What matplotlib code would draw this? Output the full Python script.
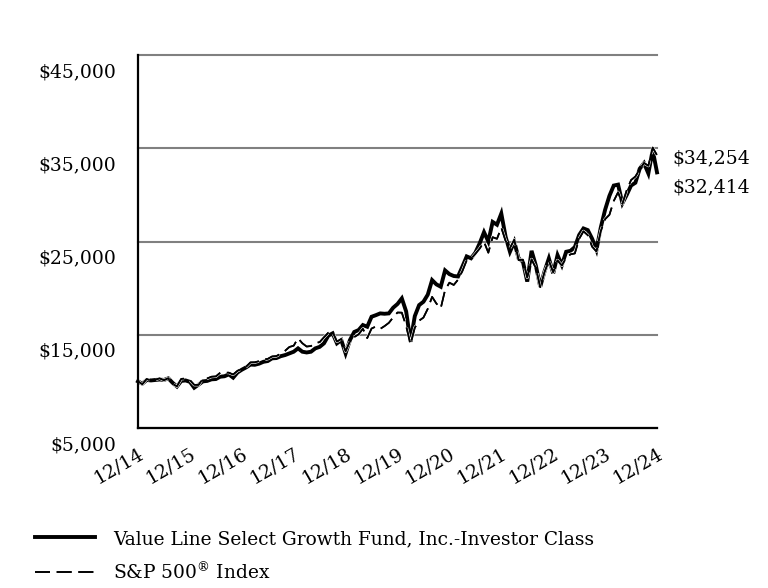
import matplotlib
matplotlib.use("Agg")
import matplotlib.pyplot as plt
import matplotlib.patheffects as pe
from matplotlib.transforms import ScaledTranslation
import numpy as np

# Growth of $10,000, month-end values 12/14 .. 12/24
fund = [
    10000, 9750, 10150, 10100, 10150, 10200, 10150, 10330, 9850, 9450, 10050, 10100, 9950,
    9320, 9650, 10000, 10050, 10220, 10250, 10500, 10550, 10750, 10400, 10950, 11250,
    11500, 11800, 11780, 11900, 12100, 12180, 12470, 12500, 12700, 12820, 13000, 13180,
    13540, 13180, 13100, 13180, 13540, 13700, 14080, 14900, 15150, 14080, 14430, 13000,
    14430, 15300, 15500, 16040, 15860, 16930, 17100, 17290, 17250, 17290, 17900, 18300,
    18900, 17500, 14250, 17000, 18180, 18540, 19300, 20860, 20400, 20150, 21900, 21500,
    21300, 21250, 22300, 23400, 23200, 23800, 24800, 26000, 25000, 27100, 26800, 28000,
    25500, 23900, 24970, 23190, 22830, 20700, 24000, 22400, 20150, 21800, 23190, 21580,
    23540, 22470, 23900, 24000, 24400, 25700, 26400, 26220, 25300, 24100, 26500, 28400,
    29900, 31000, 31100, 29100, 30000, 31000, 31300, 32800, 33400, 32300, 34800, 32414,
]
sp500 = [
    10000, 9700, 10253, 10089, 10190, 10322, 10126, 10339, 9718, 9475, 10271, 10302, 10138,
    9631, 9621, 10275, 10316, 10502, 10533, 10923, 10934, 10934, 10737, 11134, 11351,
    11573, 12036, 12048, 12168, 12339, 12413, 12674, 12712, 12979, 13277, 13689, 13829,
    14628, 14087, 13735, 13790, 14121, 14206, 14731, 15217, 15308, 14267, 14552, 13223,
    14301, 14759, 15039, 15641, 14640, 15665, 15884, 15630, 15927, 16277, 16863, 17386,
    17369, 15945, 13968, 15756, 16512, 16842, 17785, 19065, 18341, 17846, 19791, 20585,
    20338, 20907, 21827, 22984, 23145, 23677, 24245, 24972, 23798, 25464, 25286, 26494,
    25050, 24299, 25198, 23006, 23052, 21139, 23084, 22138, 20099, 21727, 22944, 21696,
    22975, 22424, 23253, 23625, 23720, 25285, 26094, 25677, 24445, 23932, 26110, 27399,
    27865, 29342, 30281, 29040, 30492, 31589, 31968, 32735, 33423, 33122, 35076, 34254,
]
year_labels = ["12/14", "12/15", "12/16", "12/17", "12/18", "12/19",
               "12/20", "12/21", "12/22", "12/23", "12/24"]
y_ticks = [5000, 15000, 25000, 35000, 45000]
fund_name = "Value Line Select Growth Fund, Inc.-Investor Class"
index_name = r"S&P 500$^{\circledR}$ Index"

plt.rcParams["font.family"] = "DejaVu Serif"
plt.rcParams["mathtext.fontset"] = "dejavuserif"

fig = plt.figure(figsize=(7.68, 5.88), dpi=100)
ax = fig.add_axes([138 / 768, 1 - 428 / 588, (657 - 138) / 768, (428 - 55) / 588])

months = np.arange(len(fund))
ax.plot(months, fund, color="black", lw=2.8, solid_joinstyle="miter",
        clip_on=False, zorder=3, label=fund_name)
ax.plot(months, sp500, color="black", lw=1.2, dashes=(9, 4), clip_on=False,
        zorder=4, label=index_name,
        path_effects=[pe.withStroke(linewidth=2.2, foreground="white"), pe.Normal()])

ax.set_xlim(0, len(fund) - 1)
ax.set_ylim(y_ticks[0], y_ticks[-1])
ax.set_xticks(np.arange(0, len(fund), 12))
ax.set_xticklabels(year_labels)
ax.set_yticks(y_ticks)
ax.set_yticklabels([f"${v:,.0f}" for v in y_ticks])

for side in ("top", "right"):
    ax.spines[side].set_visible(False)
for side in ("left", "bottom"):
    ax.spines[side].set_linewidth(1.6)
    ax.spines[side].set_zorder(5)

ax.grid(axis="y", color="#808080", linewidth=1.5)
for gl in ax.get_ygridlines():
    gl.set_clip_on(False)

ax.tick_params(axis="both", length=0, labelsize=13.5)
ax.tick_params(axis="y", pad=16)
ax.tick_params(axis="x", pad=12)

# labels sit a bit below their grid line, x labels slanted
shift_y = ScaledTranslation(0, -15 / 100, fig.dpi_scale_trans)
for lab in ax.get_yticklabels():
    lab.set_transform(lab.get_transform() + shift_y)
for lab in ax.get_xticklabels():
    lab.set_rotation(30)
    lab.set_ha("right")
    lab.set_va("top")
    lab.set_rotation_mode("anchor")

# ending values
ax.annotate(f"${sp500[-1]:,}", xy=(months[-1], sp500[-1]), xytext=(11, -2),
            textcoords="offset points", ha="left", va="center", fontsize=13.5,
            annotation_clip=False)
ax.annotate(f"${fund[-1]:,}", xy=(months[-1], fund[-1]), xytext=(11, -11),
            textcoords="offset points", ha="left", va="center", fontsize=13.5,
            annotation_clip=False)

handles, labels = ax.get_legend_handles_labels()
fig.legend(handles, labels, loc="upper left", bbox_to_anchor=(35 / 768, 1 - 530 / 588),
           frameon=False, fontsize=13.4, handlelength=3.2, handletextpad=1.0,
           labelspacing=0.75, borderpad=0, borderaxespad=0)

fig.savefig("out.png", dpi=100)
